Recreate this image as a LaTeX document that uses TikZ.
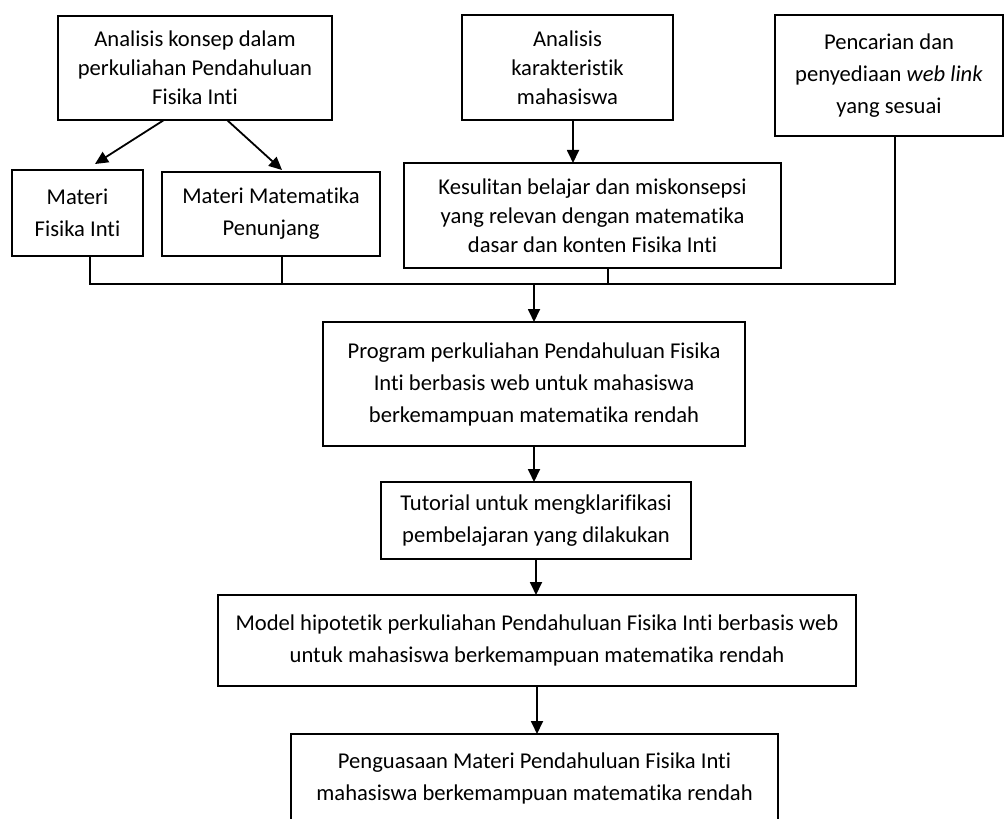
\documentclass[tikz,border=0pt]{standalone}
\usepackage{fontspec}
\setmainfont{Carlito}[Ligatures=NoCommon]
\usepackage{tikz}
\usetikzlibrary{positioning, arrows.meta, calc}
\tikzset{%
  >={Triangle[width=6pt, length=6.5pt]}, % filled arrow heads
  % plain box, text centred, sizes given per node
  stepbox/.style={rectangle, draw, line width=0.9pt, align=center, inner sep=0pt, outer sep=0pt,
    font=\fontsize{11.3pt}{14.5pt}\selectfont},
  % same box with wider line spacing
  loosebox/.style={stepbox, font=\fontsize{11.3pt}{16pt}\selectfont},
  % lines that run into the collecting bus
  busline/.style={-, line width=0.9pt},
  flow/.style={->, line width=0.9pt},
}

\begin{document}
\begin{tikzpicture}[x=0.5pt, y=-0.5pt]
  \useasboundingbox (0,0) rectangle (1005,818);

  % top row
  \node[stepbox, minimum width=137pt, minimum height=52pt] (konsep) at (195,68)
    {Analisis konsep dalam\\perkuliahan Pendahuluan\\Fisika Inti};
  \node[stepbox, minimum width=105.5pt, minimum height=52.5pt] (karakter) at (567.5,67.5)
    {Analisis\\karakteristik\\mahasiswa};
  \node[loosebox, minimum width=114pt, minimum height=60.5pt] (weblink) at (889,75.5)
    {Pencarian dan\\penyediaan \textit{web link}\\yang sesuai};

  % second row
  \node[loosebox, minimum width=65.5pt, minimum height=43pt] (materi) at (77.5,213)
    {Materi\\Fisika Inti};
  \node[loosebox, minimum width=109pt, minimum height=42pt] (penunjang) at (271,214)
    {Materi Matematika\\Penunjang};
  \node[stepbox, minimum width=188.5pt, minimum height=52.5pt] (kesulitan) at (592.5,215.5)
    {Kesulitan belajar dan miskonsepsi\\yang relevan dengan matematika\\dasar dan konten Fisika Inti};

  % main column
  \node[loosebox, minimum width=211pt, minimum height=62pt] (program) at (534,384)
    {Program perkuliahan Pendahuluan Fisika\\Inti berbasis web untuk mahasiswa\\berkemampuan matematika rendah};
  \node[loosebox, minimum width=155pt, minimum height=38.5pt] (tutorial) at (536,520.5)
    {Tutorial untuk mengklarifikasi\\pembelajaran yang dilakukan};
  \node[loosebox, minimum width=319pt, minimum height=45.5pt] (model) at (537,640.5)
    {Model hipotetik perkuliahan Pendahuluan Fisika Inti berbasis web\\untuk mahasiswa berkemampuan matematika rendah};
  \node[loosebox, minimum width=243.5pt, minimum height=44pt] (penguasaan) at (534.5,778)
    {Penguasaan Materi Pendahuluan Fisika Inti\\mahasiswa berkemampuan matematika rendah};

  % arrows of the top row
  \draw[flow] ([xshift=-15.5pt]konsep.south) -- ([xshift=8.75pt, yshift=3pt]materi.north);
  \draw[flow] ([xshift=16pt]konsep.south) -- ([xshift=5.5pt, yshift=1pt]penunjang.north);
  \coordinate (kB) at ([xshift=2.75pt]karakter.south);
  \draw[flow] (kB) -- (kB |- kesulitan.north);

  % collecting bus
  \coordinate (bus) at (534,284);
  \coordinate (dD) at ([xshift=6.25pt]materi.south);
  \coordinate (dE) at ([xshift=5.5pt]penunjang.south);
  \coordinate (dF) at ([xshift=7.75pt]kesulitan.south);
  \coordinate (dC) at ([xshift=3pt]weblink.south);
  \draw[busline] (dD) -- (dD |- bus) -- (dC |- bus) -- (dC);
  \draw[busline] (dE) -- (dE |- bus);
  \draw[busline] (dF) -- (dF |- bus);
  \draw[flow] (bus) -- (bus |- program.north);

  % main column arrows
  \draw[flow] (program.south) -- (program.south |- tutorial.north);
  \draw[flow] (tutorial.south) -- (tutorial.south |- model.north);
  \draw[flow] (model.south) -- (model.south |- penguasaan.north);
\end{tikzpicture}
\end{document}
